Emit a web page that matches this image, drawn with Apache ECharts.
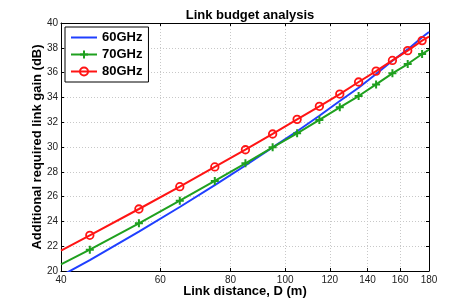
<!DOCTYPE html>
<html><head><meta charset="utf-8">
<script src="https://cdn.jsdelivr.net/npm/echarts@6/dist/echarts.min.js"></script>
<style>html,body{margin:0;padding:0;background:#fff}#c{width:474px;height:305px}</style>
</head><body><div id="c"></div>
<script>
// Data
var distances = [40, 45, 55, 65, 75, 85, 95, 105, 115, 125, 135, 145, 155, 165, 175, 180];
var gain60 = [19.61, 20.87, 23.17, 25.16, 26.92, 28.51, 29.97, 31.27, 32.52, 33.71, 34.78, 35.89, 36.95, 37.87, 38.85, 39.28];
var gain70 = [20.54, 21.72, 23.85, 25.67, 27.26, 28.68, 29.97, 31.1, 32.18, 33.2, 34.11, 35.05, 35.94, 36.69, 37.5, 37.85];
var gain80 = [21.64, 22.88, 25.0, 26.8, 28.39, 29.78, 31.05, 32.23, 33.28, 34.27, 35.24, 36.12, 36.98, 37.77, 38.58, 38.9];
var seriesNames = ['60GHz', '70GHz', '80GHz'];
var xTicks = [40, 60, 80, 100, 120, 140, 160, 180];
var yMin = 20, yMax = 40, yStep = 2;

var FONT = '"Liberation Sans", Arial, sans-serif';
var lg = function (v) { return Math.log10(v); };
var xTickVals = xTicks.map(lg);
var xMin = lg(xTicks[0]), xMax = lg(xTicks[xTicks.length - 1]);

function build(vals, marked) {
  return distances.map(function (d, i) {
    var item = { value: [lg(d), vals[i]] };
    if (!marked || i === 0 || i === distances.length - 1) item.symbol = 'none';
    return item;
  });
}
var plusPath = 'path://M3,0H5V3H8V5H5V8H3V5H0V3H3Z';
var linePath = 'path://M0,0H26V2H0Z';

var chart = echarts.init(document.getElementById('c'), null, { renderer: 'canvas' });
var axisLineStyle = { color: '#000', width: 1 };
chart.setOption({
  animation: false,
  backgroundColor: '#fff',
  title: {
    text: 'Link budget analysis', left: 245, top: 4, textAlign: 'center',
    textStyle: { fontFamily: FONT, fontSize: 13, fontWeight: 'bold', color: '#000' }
  },
  grid: { left: 61, right: 45, top: 23, bottom: 34, containLabel: false },
  legend: {
    orient: 'vertical', left: 65, top: 27,
    data: [{ name: seriesNames[0], icon: linePath }, { name: seriesNames[1] }, { name: seriesNames[2] }],
    symbolKeepAspect: true,
    itemWidth: 26, itemHeight: 10, itemGap: 4,
    padding: [4, 6, 4, 5],
    borderColor: '#000', borderWidth: 1, backgroundColor: '#fff',
    textStyle: { fontFamily: FONT, fontSize: 13, fontWeight: 'bold', color: '#000' }
  },
  xAxis: [{
    type: 'value', min: xMin, max: xMax, position: 'bottom',
    name: 'Link distance, D (m)', nameLocation: 'middle', nameGap: 14, nameMoveOverlap: false,
    nameTextStyle: { fontFamily: FONT, fontSize: 13, fontWeight: 'bold', color: '#000', verticalAlign: 'top' },
    axisLine: { lineStyle: axisLineStyle },
    axisTick: { inside: true, length: 3, customValues: xTickVals, lineStyle: { color: '#000' } },
    axisLabel: { customValues: xTickVals, margin: 4, fontFamily: FONT, fontSize: 10, color: '#222',
      formatter: function (v) { return String(Math.round(Math.pow(10, v))); } },
    splitLine: { show: true, lineStyle: { color: '#c8c8c8', type: [1, 2], width: 1 } }
  }, {
    type: 'value', min: xMin, max: xMax, position: 'top',
    axisLine: { lineStyle: axisLineStyle },
    axisTick: { inside: true, length: 3, customValues: xTickVals, lineStyle: { color: '#000' } },
    axisLabel: { show: false }, splitLine: { show: false }
  }],
  yAxis: [{
    type: 'value', min: yMin, max: yMax, interval: yStep, position: 'left',
    name: 'Additional required link gain (dB)', nameLocation: 'middle', nameGap: 17, nameMoveOverlap: false,
    nameTextStyle: { fontFamily: FONT, fontSize: 13, fontWeight: 'bold', color: '#000' },
    axisLine: { show: true, lineStyle: axisLineStyle },
    axisTick: { show: true, inside: true, length: 3, lineStyle: { color: '#000' } },
    axisLabel: { margin: 3, fontFamily: FONT, fontSize: 10, color: '#222' },
    splitLine: { show: true, lineStyle: { color: '#c8c8c8', type: [1, 2], width: 1 } }
  }, {
    type: 'value', min: yMin, max: yMax, interval: yStep, position: 'right',
    axisLine: { show: true, lineStyle: axisLineStyle },
    axisTick: { show: true, inside: true, length: 3, lineStyle: { color: '#000' } },
    axisLabel: { show: false }, splitLine: { show: false }
  }],
  series: [{
    name: seriesNames[0], type: 'line', data: build(gain60, false), showSymbol: false, symbol: 'none',
    clip: true, lineStyle: { color: '#1f3fff', width: 2 }, itemStyle: { color: '#1f3fff' }, z: 3
  }, {
    name: seriesNames[1], type: 'line', data: build(gain70, true), symbol: plusPath, symbolSize: 8,
    clip: true, lineStyle: { color: '#1fa01f', width: 2 }, itemStyle: { color: '#1fa01f' }, z: 4
  }, {
    name: seriesNames[2], type: 'line', data: build(gain80, true), symbol: 'circle', symbolSize: 7.5,
    clip: true, lineStyle: { color: '#ff1414', width: 2 },
    itemStyle: { color: 'rgba(255,255,255,0)', borderColor: '#ff1414', borderWidth: 1.8 }, z: 5
  }]
});
</script></body></html>
